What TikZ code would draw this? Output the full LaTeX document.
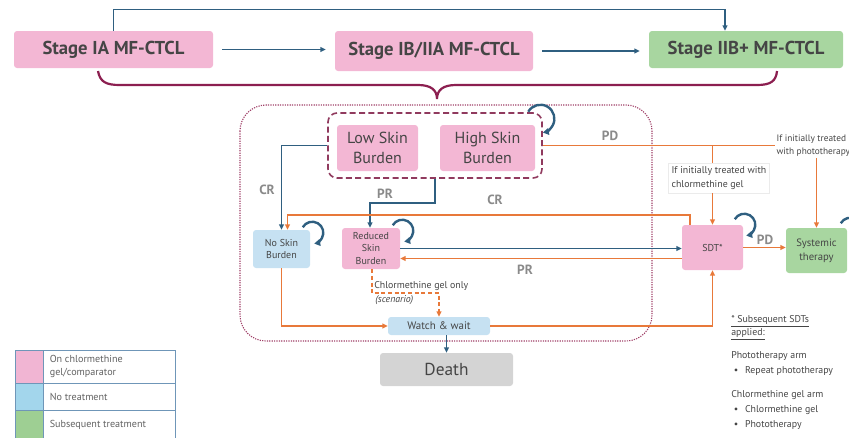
\documentclass[tikz,border=0pt]{standalone}
\usepackage{fontspec}
\setmainfont{PT Sans}
\usetikzlibrary{arrows.meta,calc}
\newdimen\pxu \pxu=0.75pt
\definecolor{pinkf}{HTML}{F3B7D4}
\definecolor{greenf}{HTML}{A8D6A0}
\definecolor{bluef}{HTML}{C6E1F2}
\definecolor{grayf}{HTML}{D4D4D4}
\definecolor{txt}{HTML}{454545}
\definecolor{blueln}{HTML}{2F5F80}
\definecolor{orangeln}{HTML}{E8793A}
\definecolor{maroon}{HTML}{8C1F50}
\definecolor{regionc}{HTML}{A04068}
\definecolor{lblgray}{HTML}{8A8A8A}
\definecolor{legbord}{HTML}{6F96B8}
\definecolor{legpink}{HTML}{F1B5D3}
\definecolor{legblue}{HTML}{A3D6EC}
\definecolor{leggreen}{HTML}{9ECF93}
\begin{document}
\begin{tikzpicture}[x=0.75pt,y=-0.75pt,
  box/.style={rounded corners=3\pxu, inner sep=0pt, align=center, text=txt},
  sz/.style n args={2}{minimum width=#1\pxu, minimum height=#2\pxu},
  pinkbox/.style={box, fill=pinkf},
  greenbox/.style={box, fill=greenf},
  bluebox/.style={box, fill=bluef},
  stagefont/.style={font=\bfseries\fontsize{14}{16}\selectfont},
  bigfont/.style={font=\fontsize{12}{15}\selectfont},
  smallfont/.style={font=\fontsize{7.5}{9.4}\selectfont},
  barrow/.style={draw=blueln, line width=1.5\pxu, -{Triangle[length=4pt,width=3.6pt]}},
  oline/.style={draw=orangeln, line width=1.8\pxu},
  oarrow/.style={oline, -{Triangle[length=4pt,width=3.6pt]}},
  odash/.style={oarrow, dash pattern=on 3pt off 2pt},
  loopy/.style={draw=blueln, line width=2.4\pxu, -{Triangle[length=4.5pt,width=5pt]}},
  lbl/.style={font=\bfseries\fontsize{10}{12}\selectfont, text=lblgray},
  note/.style={font=\fontsize{7.4}{10.5}\selectfont, text=txt, align=left, inner sep=0pt},
  legcell/.style={draw=legbord, line width=0.9\pxu, inner sep=0pt}
]
\useasboundingbox (0,0) rectangle (849,437);

% ---- top row
\node[pinkbox, stagefont, sz={199}{37}] (sIA) at (113.5,49.5) {Stage IA MF-CTCL};
\node[pinkbox, stagefont, sz={198}{40}] (sIB) at (434,51) {Stage IB/IIA MF-CTCL};
\node[greenbox, stagefont, sz={194}{37}] (sII) at (746,49.5) {Stage IIB+ MF-CTCL};

\draw[barrow] ([xshift=9\pxu]sIA.east) -- ([xshift=-9\pxu]sIA.east -| sIB.west);
\draw[barrow] ([xshift=9\pxu]sIB.east) -- ([xshift=-9\pxu]sIB.east -| sII.west);
\draw[barrow] (sIA.north) -- ++(0,-21) -| ([xshift=-21\pxu]sII.north);

% brace
\draw[maroon, line width=2.2\pxu]
  (98,71) .. controls (100,82) and (106,85) .. (120,85) -- (418,85)
  .. controls (431,85) and (437,90) .. (437,99)
  .. controls (437,90) and (443,85) .. (456,85) -- (757,85)
  .. controls (771,85) and (776,81) .. (777,71);

% ---- region
\draw[regionc, line width=1.1\pxu, dash pattern=on 0.9pt off 0.9pt, rounded corners=26\pxu]
  (240,105) rectangle (652,341);

\node[draw=regionc!90!black, line width=1.6\pxu, dash pattern=on 4.5pt off 2.5pt,
  rounded corners=9\pxu, inner sep=0pt, sz={214}{65}] (grp) at (435,145.5) {};
\node[pinkbox, bigfont, sz={81}{46}] (lsb) at (377.5,148) {Low Skin\\Burden};
\node[pinkbox, bigfont, sz={95}{46}] (hsb) at (487.5,148) {High Skin\\Burden};

\node[bluebox, smallfont, sz={57}{38}] (nsb) at (281.5,249) {No Skin\\Burden};
\node[pinkbox, smallfont, sz={58}{41}] (rsb) at (371,248.5) {Reduced\\Skin\\Burden};
\node[pinkbox, smallfont, sz={61}{45}] (sdt) at (712.5,247.5) {SDT*};
\node[greenbox, font=\fontsize{8}{10.5}\selectfont, sz={61}{45}] (sys) at (816.5,250.5) {Systemic\\therapy};
\node[bluebox, font=\fontsize{8.2}{10}\selectfont, sz={102}{18}] (ww) at (439,326) {Watch \& wait};
\node[box, fill=grayf, font=\fontsize{13}{15}\selectfont, sz={133}{33}] (death) at (446.5,369.5) {Death};

% text notes for the PD branches
\node[note, anchor=north west, fill=white, draw=black!8, inner sep=2.5pt] (txtchl) at (668,163)
  {If initially treated with\\chlormethine gel};
\node[note, anchor=north west, inner sep=1pt, font=\fontsize{7}{10}\selectfont] (txtphoto) at (775,133)
  {If initially treated\\with phototherapy};

% ---- connectors
% CR blue
\draw[barrow] (grp.west) -| (nsb.north);
\node[lbl] (lcr1) at (267,190) {CR};
% PR blue
\draw[barrow] (grp.south) -- ++(0,24) -| ([xshift=-1\pxu]rsb.north);
\node[lbl] (lpr1) at (385,194) {PR};
% CR orange from SDT
\draw[oarrow] ([xshift=8\pxu]sdt.north west) -- ++(0,-10) -| ([xshift=6\pxu]nsb.north);
\node[lbl] (lcr2) at (495,200) {CR};
% reduced -> SDT (blue)
\draw[barrow] (rsb.east) -- (rsb.east -| sdt.west);
% SDT -> reduced (PR orange)
\draw[oarrow] ([yshift=-11\pxu]sdt.west) -- ([yshift=-11\pxu]sdt.west -| rsb.east);
\node[lbl] (lpr2) at (525,270) {PR};
% no skin -> watch & wait
\draw[oarrow] (nsb.south) |- (ww.west);
% reduced -> watch & wait (dashed scenario)
\draw[odash] ([xshift=1\pxu]rsb.south) -- ++(0,24) -| (ww.north);
\node[note, anchor=west, font=\fontsize{7.4}{9}\selectfont] (lchl) at (374,286) {Chlormethine gel only};
\node[note, anchor=west, font=\itshape\fontsize{7.4}{9}\selectfont] (lscen) at (375,300) {(scenario)};
% watch & wait -> SDT
\draw[oarrow] (ww.east) -| (sdt.south);
% watch & wait -> death
\draw[barrow, line width=1.3\pxu] (ww.south -| death.north) -- (death.north);
% PD from high skin burden
\draw[oline] (grp.east) -- (grp.east -| txtphoto.west);
\node[lbl] (lpd1) at (610,136) {PD};
\draw[oline] (grp.east -| sdt.north) -- (txtchl.north -| sdt.north);
\draw[oarrow] (txtchl.south -| sdt.north) -- (sdt.north);
\draw[oarrow] (txtphoto.south -| sys.north) -- (sys.north);
% SDT -> systemic
\draw[oarrow] (sdt.east) -- (sdt.east -| sys.west);
\node[lbl] (lpd2) at (765,240) {PD};

% ---- self loops
\draw[loopy] ([shift={(-7,-13)}]hsb.north east) arc[start angle=210, end angle=440, radius=14];
\draw[loopy] ([shift={(-7.5,-2.5)}]nsb.north east) arc[start angle=210, end angle=440, radius=11];
\draw[loopy] ([shift={(-7.5,-2.5)}]rsb.north east) arc[start angle=210, end angle=440, radius=11];
\draw[loopy] ([shift={(-8.5,-5.5)}]sdt.north east) arc[start angle=210, end angle=440, radius=11];
\draw[loopy] ([shift={(-6.5,-4.5)}]sys.north east) arc[start angle=210, end angle=440, radius=11];

% ---- legend
\node[legcell, fill=legpink, sz={28}{33}] (lp) at (29,366.5) {};
\node[legcell, sz={132}{33}] (lpt) at (109,366.5) {};
\node[legcell, fill=legblue, sz={28}{27}] (lb) at (29,396.5) {};
\node[legcell, sz={132}{27}] (lbt) at (109,396.5) {};
\node[legcell, fill=leggreen, sz={28}{29}] (lg) at (29,424.5) {};
\node[legcell, sz={132}{29}] (lgt) at (109,424.5) {};
\node[note, anchor=west, text=txt!85, font=\fontsize{7.6}{9.8}\selectfont] at ([xshift=7\pxu]lpt.west) {On chlormethine\\gel/comparator};
\node[note, anchor=west, text=txt!85, font=\fontsize{7.6}{9.8}\selectfont] at ([xshift=7\pxu]lbt.west) {No treatment};
\node[note, anchor=west, text=txt!85, font=\fontsize{7.6}{9.8}\selectfont] at ([xshift=7\pxu]lgt.west) {Subsequent treatment};

% ---- notes bottom right
\node[note, anchor=north west, font=\fontsize{7.4}{8.6}\selectfont] (n1) at (731,315)
  {\underline{* Subsequent SDTs}\\\underline{applied:}};
\node[note, anchor=north west, font=\fontsize{7.4}{11.2}\selectfont] (n2) at (731,351)
  {Phototherapy arm\\\hspace*{2pt}•\hspace{5pt}Repeat phototherapy};
\node[note, anchor=north west, font=\fontsize{7.4}{11.2}\selectfont] (n3) at (731,390)
  {Chlormethine gel arm\\\hspace*{2pt}•\hspace{5pt}Chlormethine gel\\\hspace*{2pt}•\hspace{5pt}Phototherapy};
\end{tikzpicture}
\end{document}
